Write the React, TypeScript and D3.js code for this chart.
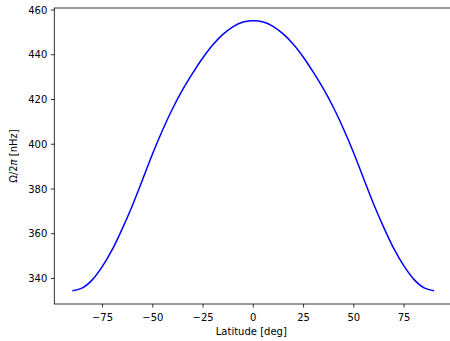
import React from "react";
import * as d3 from "d3";

const latitudes = [-90, -85, -80, -75, -70, -65, -60, -55, -50, -45, -40, -35, -30, -25, -20, -15, -10, -5, 0, 5, 10, 15, 20, 25, 30, 35, 40, 45, 50, 55, 60, 65, 70, 75, 80, 85, 90];
const omegaHalf = [334.5, 335.8, 339.5, 345.5, 353.2, 362.6, 373.0, 384.4, 396.0, 406.6, 416.2, 424.6, 432.0, 438.8, 444.6, 449.2, 452.6, 454.6, 455.2];
const omega = [...omegaHalf, ...omegaHalf.slice(0, -1).reverse()];
const xTicks = [-75, -50, -25, 0, 25, 50, 75];
const yTicks = [340, 360, 380, 400, 420, 440, 460];

const W = 450, H = 341;
const M = { left: 54.3, right: 452.3, top: 8, bottom: 304 };

export default function App() {
  const x = d3.scaleLinear().domain([-99, 99]).range([M.left, M.right]);
  const y = d3.scaleLinear().domain([328.6, 460.9]).range([M.bottom, M.top]);
  const data = latitudes.map((lat, i) => [lat, omega[i]] as [number, number]);
  const line = d3.line<[number, number]>().x(d => x(d[0])).y(d => y(d[1])).curve(d3.curveCatmullRom.alpha(0.5));
  const fmt = (v: number) => (v < 0 ? "\u2212" + Math.abs(v) : String(v));
  const font = "DejaVu Sans, sans-serif";
  return (
    <svg width={W} height={H} style={{ position: "absolute", left: 0, top: 0, background: "#fff" }} fontFamily={font}>
      <path d={line(data) || ""} fill="none" stroke="#0000ff" strokeWidth={1.5} />
      <rect x={M.left} y={M.top} width={M.right - M.left} height={M.bottom - M.top} fill="none" stroke="#000" strokeWidth={0.8} />
      {xTicks.map(t => (
        <g key={"x" + t} transform={`translate(${x(t)},${M.bottom})`}>
          <line y1={0} y2={3.5} stroke="#000" strokeWidth={0.8} />
          <text y={17} textAnchor="middle" fontSize={10} fill="#000">{fmt(t)}</text>
        </g>
      ))}
      {yTicks.map(t => (
        <g key={"y" + t} transform={`translate(${M.left},${y(t)})`}>
          <line x1={0} x2={-3.5} stroke="#000" strokeWidth={0.8} />
          <text x={-7} dy="0.35em" textAnchor="end" fontSize={10} fill="#000">{t}</text>
        </g>
      ))}
      <text x={(M.left + M.right) / 2 - 2} y={335} textAnchor="middle" fontSize={10} fill="#000">Latitude [deg]</text>
      <text transform={`translate(17,${(M.top + M.bottom) / 2}) rotate(-90)`} textAnchor="middle" fontSize={10} fill="#000">Ω/2<tspan fontStyle="italic">π</tspan> [nHz]</text>
    </svg>
  );
}
